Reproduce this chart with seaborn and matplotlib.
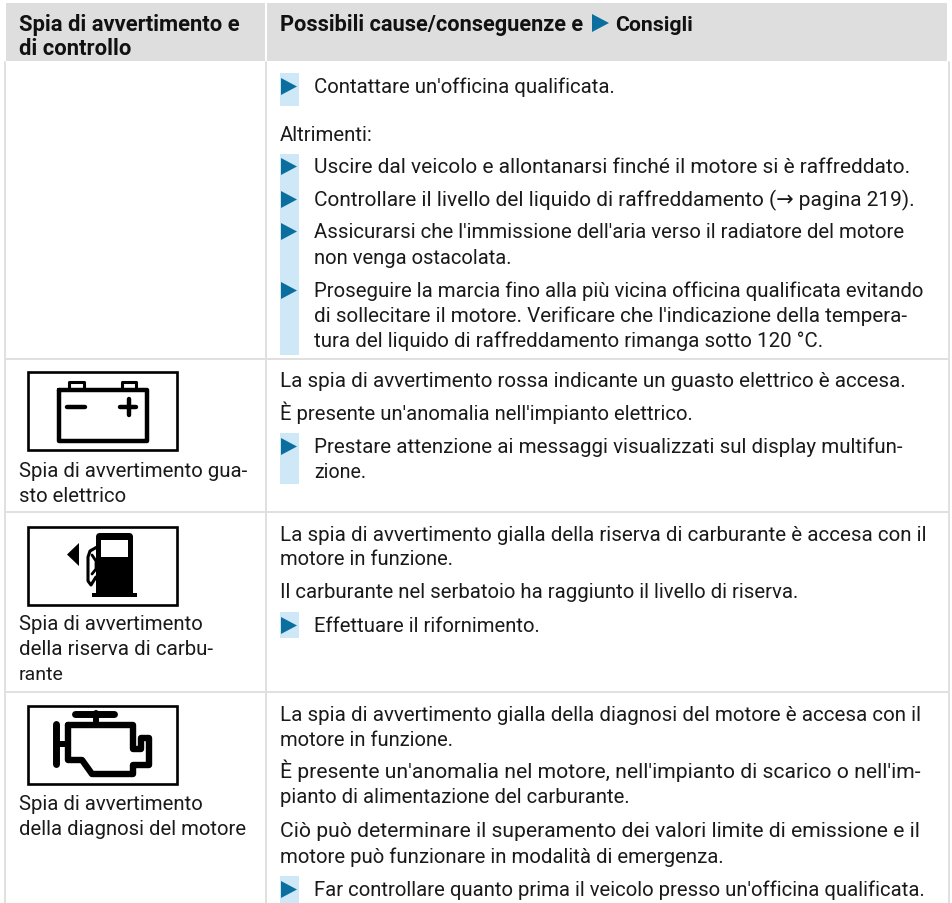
import matplotlib
matplotlib.use('Agg')
import matplotlib.pyplot as plt
from matplotlib.patches import Rectangle, Polygon, FancyBboxPatch
import seaborn as sns

sns.set_theme(style='white')
plt.rcParams['font.family'] = ['Roboto', 'DejaVu Sans']

HEAD_BG = '#dedede'
RULE = '#e0e0e0'
TEXT = '#1a1a1a'
BULLET = '#0a6f9f'
BULLET_BG = '#cfe8f8'

head_left = ['Spia di avvertimento e', 'di controllo']
head_right = ['Possibili cause/conseguenze e', 'Consigli']

body_text = [
    "Contattare un'officina qualificata.",
    "Altrimenti:",
    "Uscire dal veicolo e allontanarsi finché il motore si è raffreddato.",
    "Controllare il livello del liquido di raffreddamento (→ pagina 219).",
    "Assicurarsi che l'immissione dell'aria verso il radiatore del motore",
    "non venga ostacolata.",
    "Proseguire la marcia fino alla più vicina officina qualificata evitando",
    "di sollecitare il motore. Verificare che l'indicazione della tempera-",
    "tura del liquido di raffreddamento rimanga sotto 120 °C.",
    "La spia di avvertimento rossa indicante un guasto elettrico è accesa.",
    "È presente un'anomalia nell'impianto elettrico.",
    "Prestare attenzione ai messaggi visualizzati sul display multifun-",
    "zione.",
    "La spia di avvertimento gialla della riserva di carburante è accesa con il",
    "motore in funzione.",
    "Il carburante nel serbatoio ha raggiunto il livello di riserva.",
    "Effettuare il rifornimento.",
    "La spia di avvertimento gialla della diagnosi del motore è accesa con il",
    "motore in funzione.",
    "È presente un'anomalia nel motore, nell'impianto di scarico o nell'im-",
    "pianto di alimentazione del carburante.",
    "Ciò può determinare il superamento dei valori limite di emissione e il",
    "motore può funzionare in modalità di emergenza.",
    "Far controllare quanto prima il veicolo presso un'officina qualificata.",
]
body_base = [93, 141, 173, 206, 238, 264, 297, 322, 347, 387, 420, 453, 478,
             541, 565, 598, 632, 721, 746, 778, 803, 837, 863, 896]
body_right = [618, 374, 914, 919, 911, 514, 930, 912, 826, 910, 697, 904, 367,
              930, 455, 805, 542, 925, 455, 926, 632, 923, 728, 930]
bullet_rows = [0, 2, 3, 4, 6, 11, 16, 23]
# lines that wrap a bullet line sit at the same indent as the bullet text
indented_rows = [0, 2, 3, 4, 5, 6, 7, 8, 11, 12, 16, 23]

left_text = [
    "Spia di avvertimento gua-",
    "sto elettrico",
    "Spia di avvertimento",
    "della riserva di carbu-",
    "rante",
    "Spia di avvertimento",
    "della diagnosi del motore",
]
left_base = [477, 502, 630, 655, 680, 810, 835]
left_right = [250, 127, 205, 214, 64, 205, 248]

row_rules = [360, 513, 693]
icon_tops = [373, 528, 707]
bullet_bands = [(74, 107), (155, 356), (434, 485), (613, 639), (877, 904)]

fig = plt.figure(figsize=(9.53, 9.04), dpi=100)
ax = fig.add_axes([0, 0, 1, 1])
ax.set_xlim(0, 953)
ax.set_ylim(904, 0)
ax.axis('off')
renderer = fig.canvas.get_renderer()


def fit_text(x, y, txt, right, weight='normal', color=TEXT):
    # same start and end as the scan, size follows from that
    t = ax.text(x, y, txt, fontsize=14, fontweight=weight, color=color, va='baseline')
    w = t.get_window_extent(renderer).width
    t.set_fontsize(14 * (right - x) / w)


def stroke(xs, ys, lw):
    ax.plot(xs, ys, color='black', lw=lw, solid_capstyle='round', solid_joinstyle='round')


# header and grid
ax.add_patch(Rectangle((6, 4), 259, 58, fc=HEAD_BG, ec='none'))
ax.add_patch(Rectangle((267, 4), 680, 58, fc=HEAD_BG, ec='none'))
for x in [5, 266, 949]:
    ax.plot([x, x], [63, 904], color=RULE, lw=1.4)
for y in row_rules:
    ax.plot([5, 949], [y, y], color=RULE, lw=1.4)

# bullet backgrounds
for y0, y1 in bullet_bands:
    ax.add_patch(Rectangle((280, y0), 19, y1 - y0, fc=BULLET_BG, ec='none'))

fit_text(19, 31, head_left[0], 240, 'bold', '#111111')
fit_text(19, 55, head_left[1], 131, 'bold', '#111111')
fit_text(280, 31, head_right[0], 584, 'bold', '#111111')
ax.add_patch(Polygon([(592, 15), (592, 33), (609, 24)], fc=BULLET, ec='none'))
fit_text(615, 31, head_right[1], 693, 'bold', '#111111')

for i, txt in enumerate(body_text):
    x0 = 314.5 if i in indented_rows else 280
    fit_text(x0, body_base[i], txt, body_right[i])
    if i in bullet_rows:
        y = body_base[i]
        ax.add_patch(Polygon([(281, y - 14), (281, y + 3), (297, y - 5.5)], fc=BULLET, ec='none'))

for i, txt in enumerate(left_text):
    fit_text(19, left_base[i], txt, left_right[i])

# icon frames
for top in icon_tops:
    ax.add_patch(Rectangle((28, top), 149.5, 77.5, fc='white', ec='black', lw=1.9))

# battery
stroke([59, 147, 147, 59, 59], [391, 391, 442, 442, 391], 3.2)
stroke([69.5, 69.5, 84.5, 84.5], [389, 382.5, 382.5, 389], 2.2)
stroke([122.5, 122.5, 136.5, 136.5], [389, 382.5, 382.5, 389], 2.2)
stroke([67.5, 85.5], [408, 408], 3.2)
stroke([120.5, 136.5], [408, 408], 3.2)
stroke([128.7, 128.7], [399.5, 415.5], 3.2)

# fuel pump
ax.add_patch(Polygon([(67, 555.5), (79, 544), (79, 567)], fc='black', ec='none'))
ax.add_patch(FancyBboxPatch((100, 538), 29, 56, boxstyle='round,pad=4', fc='black', ec='none'))
ax.add_patch(Rectangle((101, 541), 27, 17, fc='white', ec='none'))
ax.add_patch(Rectangle((92, 594), 45, 4, fc='black', ec='none'))
stroke([97, 90, 88, 88, 91, 96], [548, 552, 558, 582, 586, 578], 2.2)
stroke([92, 96, 96, 92], [556, 562, 570, 575], 2)

# engine
stroke([75.5, 114.5], [714.5, 714.5], 5)
stroke([96, 96], [714, 724], 4.3)
stroke([56.5, 56.5], [725, 765], 5)
stroke([58, 67], [745, 745], 4.3)
stroke([68, 133, 133, 141, 141, 149, 149, 133, 133, 92, 82, 68, 68],
       [726, 726, 750, 750, 739, 739, 766, 766, 775, 775, 761, 761, 726], 4.6)

fig.savefig('out.png', dpi=100)
